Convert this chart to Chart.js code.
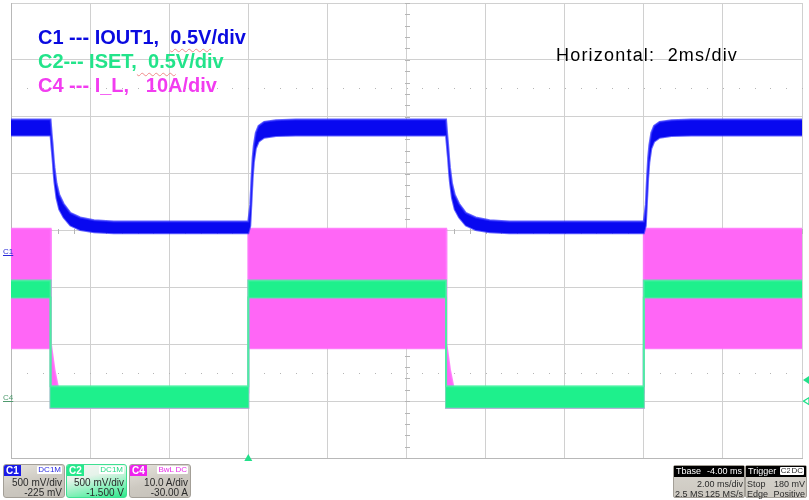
<!DOCTYPE html>
<html>
<head>
<meta charset="utf-8">
<script src="https://cdn.jsdelivr.net/npm/chart.js@4.4.1/dist/chart.umd.min.js"></script>
<style>
  html, body { margin: 0; padding: 0; background: #fff; }
  #wrap { position: relative; width: 809px; height: 500px; overflow: hidden; font-family: "Liberation Sans", Arial, sans-serif; }
  #scope { position: absolute; left: 0; top: 0; }
  .ann { position: absolute; white-space: pre; font-weight: bold; font-size: 20px; line-height: 20px; }
  .sq { text-decoration: underline wavy #f08a8a; text-decoration-thickness: 1px; text-underline-offset: 4px; }
  .hz { position: absolute; left: 556px; top: 46px; white-space: pre; font-size: 18px; line-height: 18px; letter-spacing: 1.2px; color: #000; }
  .mk { position: absolute; font-size: 8px; line-height: 8px; text-decoration: underline; }
  .box { position: absolute; top: 464px; height: 32px; border: 1px solid #a39f97; border-radius: 3px;
         background: linear-gradient(165deg, #e7e4de 0%, #cdc9c1 50%, #c3bfb7 100%); color: #2a2a2a; font-size: 10px; }
  .tag { position: absolute; left: 0; top: 0; height: 11px; line-height: 11px; font-size: 10px; font-weight: bold; color: #fff; padding: 0 2px; border-top-left-radius: 2px; }
  .mode { position: absolute; top: 1px; height: 8px; line-height: 8px; font-size: 8px; background: #fff; padding: 0 1px; border-radius: 1px; }
  .r1 { position: absolute; right: 2px; top: 13px; line-height: 10px; white-space: pre; }
  .r2 { position: absolute; right: 2px; top: 23px; line-height: 10px; white-space: pre; }
  .l1 { position: absolute; left: 2px; top: 13px; line-height: 10px; white-space: pre; }
  .l2 { position: absolute; left: 2px; top: 23px; line-height: 10px; white-space: pre; }
  .hdr { position: absolute; left: 0; right: 0; top: 0; height: 11px; background: #000; color: #fff; font-size: 9px; line-height: 11px; white-space: pre; }
  .rbox { position: absolute; top: 465px; height: 31px; border: 1px solid #a39f97; border-radius: 2px;
          background: linear-gradient(180deg, #d8d5ce 0%, #cdc9c1 100%); color: #2a2a2a; font-size: 9px; }
  .rbox .r1, .rbox .r2 { right: 1px; }
  .rbox .l1, .rbox .l2 { left: 1px; }
</style>
</head>
<body>
<div id="wrap">
  <canvas id="scope" width="809" height="500"></canvas>

  <div class="ann" style="left:38px; top:27px; color:#0a0ae0;">C1 --- IOUT1,  <span class="sq">0.5V</span>/div</div>
  <div class="ann" style="left:38px; top:51px; color:#22e48a;">C2--- ISET,<span class="sq">  0.5</span>V/div</div>
  <div class="ann" style="left:38px; top:75px; color:#f23cf0;">C4 --- I_L,   10A/div</div>
  <div class="hz">Horizontal:  2ms/div</div>

  <div class="mk" style="left:3px; top:248px; color:#2a2ad8;">C1</div>
  <div class="mk" style="left:3px; top:394px; color:#4f9a6e;">C4</div>

  <div class="box" style="left:3px; width:60px;">
    <div class="tag" style="background:#1a1ae8;">C1</div>
    <div class="mode" style="right:2px; color:#2a2ae0;">DC1M</div>
    <div class="r1">500 mV/div</div>
    <div class="r2">-225 mV</div>
  </div>
  <div class="box" style="left:66px; width:59px; border-color:#3fe092; background:linear-gradient(168deg, #f4f5f3 0%, #e6f3ea 35%, #7ef0b6 72%, #2fe88c 100%);">
    <div class="tag" style="background:#26e88c;">C2</div>
    <div class="mode" style="right:2px; color:#26d884;">DC1M</div>
    <div class="r1">500 mV/div</div>
    <div class="r2">-1.500 V</div>
  </div>
  <div class="box" style="left:129px; width:60px;">
    <div class="tag" style="background:#ee22ee;">C4</div>
    <div class="mode" style="right:15px; color:#e830e8;">BwL</div>
    <div class="mode" style="right:2px; color:#e830e8;">DC</div>
    <div class="r1">10.0 A/div</div>
    <div class="r2">-30.00 A</div>
  </div>

  <div class="rbox" style="left:673px; width:70px;">
    <div class="hdr"><span style="position:absolute;left:2px;">Tbase</span><span style="position:absolute;right:2px;">-4.00 ms</span></div>
    <div class="r1">2.00 ms/div</div>
    <div class="l2">2.5 MS</div>
    <div class="r2">125 MS/s</div>
  </div>
  <div class="rbox" style="left:745px; width:60px;">
    <div class="hdr"><span style="position:absolute;left:2px;">Trigger</span></div>
    <div class="mode" style="right:14px; top:1px; color:#2a2a2a;">C2</div>
    <div class="mode" style="right:2px; top:1px; color:#2a2a2a;">DC</div>
    <div class="l1">Stop</div>
    <div class="r1">180 mV</div>
    <div class="l2">Edge</div>
    <div class="r2">Positive</div>
  </div>
</div>

<script>
// ---- Data (time in ms, vertical in divisions; trigger at t = 0) ----
// C1 (IOUT1) envelope of the noisy trace
const c1Time = [-6, -5, -4.97, -4.95, -4.92, -4.9, -4.85, -4.78, -4.67, -4.5, -4.25, -3.9, -3.4,
                0, 0.05, 0.08, 0.11, 0.14, 0.19, 0.26, 0.4, 0.7, 1.2,
                5, 5.03, 5.05, 5.08, 5.1, 5.15, 5.22, 5.33, 5.5, 5.75, 6.1, 6.6,
                10, 10.05, 10.08, 10.11, 10.14, 10.19, 10.26, 10.4, 10.7, 11.2, 14];
const c1Upper = [1.95, 1.95, 1.68, 1.53, 1.25, 1.10, 0.83, 0.63, 0.47, 0.31, 0.23, 0.18, 0.16,
                 0.16, 0.45, 0.9, 1.28, 1.5, 1.72, 1.84, 1.91, 1.94, 1.95,
                 1.95, 1.68, 1.53, 1.25, 1.10, 0.83, 0.63, 0.47, 0.31, 0.23, 0.18, 0.16,
                 0.16, 0.45, 0.9, 1.28, 1.5, 1.72, 1.84, 1.91, 1.94, 1.95, 1.95];
const c1Lower = [1.67, 1.67, 1.42, 1.27, 0.99, 0.84, 0.57, 0.37, 0.23, 0.09, 0.01, -0.03, -0.05,
                 -0.05, 0.08, 0.5, 0.92, 1.2, 1.44, 1.56, 1.63, 1.66, 1.67,
                 1.67, 1.42, 1.27, 0.99, 0.84, 0.57, 0.37, 0.23, 0.09, 0.01, -0.03, -0.05,
                 -0.05, 0.08, 0.5, 0.92, 1.2, 1.44, 1.56, 1.63, 1.66, 1.67, 1.67];

// C2 (ISET) envelope
const c2Time  = [-6, -5, -5, 0, 0, 5, 5, 10, 10, 14];
const c2Upper = [-0.88, -0.88, -2.74, -2.74, -0.88, -0.88, -2.74, -2.74, -0.88, -0.88];
const c2Lower = [-1.18, -1.18, -3.11, -3.11, -1.18, -1.18, -3.11, -3.11, -1.18, -1.18];

// C4 (I_L) envelope
const c4UpperTime = [-6, -5, -4.99, -4.9, -4.8, 0, 0, 5, 5.01, 5.1, 5.2, 10, 10, 14];
const c4Upper     = [0.03, 0.03, -2.0, -2.45, -2.8, -2.85, 0.03, 0.03, -2.0, -2.45, -2.8, -2.85, 0.03, 0.03];
const c4LowerTime = [-6, -5, -5, 0, 0, 5, 5, 10, 10, 14];
const c4Lower     = [-2.07, -2.07, -3.12, -3.12, -2.07, -2.07, -3.12, -3.12, -2.07, -2.07];

// Axis layout: 10 horizontal divisions of 2 ms, 8 vertical divisions
const timeTicks = [-6, -4, -2, 0, 2, 4, 6, 8, 10, 12, 14];
const divTicks  = [-4, -3, -2, -1, 0, 1, 2, 3, 4];

const pts = (ts, vs) => ts.map((t, i) => ({ x: t, y: vs[i] }));

const graticule = {
  id: 'graticule',
  beforeDatasetsDraw(chart) {
    const { ctx, scales: { x, y } } = chart;
    ctx.save();
    ctx.fillStyle = '#b5b5b5';
    [2.5, -2.5].forEach(v => {
      const py = Math.round(y.getPixelForValue(v));
      for (let k = 0; k <= 50; k++) {
        const px = Math.round(x.getPixelForValue(-6 + k * 0.4));
        ctx.fillRect(px, py, 1, 1);
      }
    });
    const cx = Math.round(x.getPixelForValue(4));
    const cy = Math.round(y.getPixelForValue(0));
    for (let k = 0; k <= 40; k++) {
      const py = Math.round(y.getPixelForValue(-4 + k * 0.2));
      ctx.fillRect(cx - 2, py, 5, 1);
    }
    for (let k = 0; k <= 50; k++) {
      const px = Math.round(x.getPixelForValue(-6 + k * 0.4));
      ctx.fillRect(px, cy - 2, 1, 5);
    }
    ctx.restore();
  },
  afterDraw(chart) {
    const { ctx, chartArea: a, scales: { x, y } } = chart;
    ctx.save();
    ctx.fillStyle = '#22e08a';
    ctx.strokeStyle = '#22e08a';
    const tx = x.getPixelForValue(0);
    ctx.beginPath();
    ctx.moveTo(tx, a.bottom - 4); ctx.lineTo(tx - 4, a.bottom + 3); ctx.lineTo(tx + 4, a.bottom + 3); ctx.closePath();
    ctx.fill();
    const y1 = y.getPixelForValue(-2.63);
    ctx.beginPath();
    ctx.moveTo(a.right + 1, y1); ctx.lineTo(a.right + 7, y1 - 4); ctx.lineTo(a.right + 7, y1 + 4); ctx.closePath();
    ctx.fill();
    const y2 = y.getPixelForValue(-3);
    ctx.lineWidth = 1.2;
    ctx.beginPath();
    ctx.moveTo(a.right + 1.5, y2); ctx.lineTo(a.right + 7, y2 - 3.5); ctx.lineTo(a.right + 7, y2 + 3.5); ctx.closePath();
    ctx.stroke();
    ctx.restore();
  }
};

const bandStyle = (fill, edge) => ({
  backgroundColor: fill, borderColor: edge, borderWidth: 2,
  pointRadius: 0, pointHoverRadius: 0, tension: 0
});

new Chart(document.getElementById('scope'), {
  type: 'line',
  data: {
    datasets: [
      { label: 'C1 upper', data: pts(c1Time, c1Upper), fill: '+1', ...bandStyle('#0808f0', 'rgba(50,50,255,0.75)') },
      { label: 'C1 lower', data: pts(c1Time, c1Lower), fill: false, ...bandStyle('#0808f0', 'rgba(50,50,255,0.75)') },
      { label: 'C2 upper', data: pts(c2Time, c2Upper), fill: '+1', ...bandStyle('#1ef08c', 'rgba(70,242,160,0.8)') },
      { label: 'C2 lower', data: pts(c2Time, c2Lower), fill: false, ...bandStyle('#1ef08c', 'rgba(70,242,160,0.8)') },
      { label: 'C4 upper', data: pts(c4UpperTime, c4Upper), fill: '+1', ...bandStyle('#ff66f6', 'rgba(255,112,250,0.85)') },
      { label: 'C4 lower', data: pts(c4LowerTime, c4Lower), fill: false, ...bandStyle('#ff66f6', 'rgba(255,112,250,0.85)') }
    ]
  },
  options: {
    responsive: false,
    animation: false,
    events: [],
    layout: { padding: { left: 11, right: 7, top: 3, bottom: 42 } },
    plugins: { legend: { display: false }, tooltip: { enabled: false } },
    scales: {
      x: {
        type: 'linear', min: -6, max: 14,
        afterBuildTicks: s => { s.ticks = timeTicks.map(v => ({ value: v })); },
        ticks: { display: false },
        grid: { color: '#d0d0d0', lineWidth: 1, drawTicks: false },
        border: { display: true, color: '#b8b8b8', width: 1 }
      },
      y: {
        type: 'linear', min: -4, max: 4,
        afterBuildTicks: s => { s.ticks = divTicks.map(v => ({ value: v })); },
        ticks: { display: false },
        grid: { color: '#d0d0d0', lineWidth: 1, drawTicks: false },
        border: { display: true, color: '#b8b8b8', width: 1 }
      }
    }
  },
  plugins: [graticule]
});
</script>
</body>
</html>
